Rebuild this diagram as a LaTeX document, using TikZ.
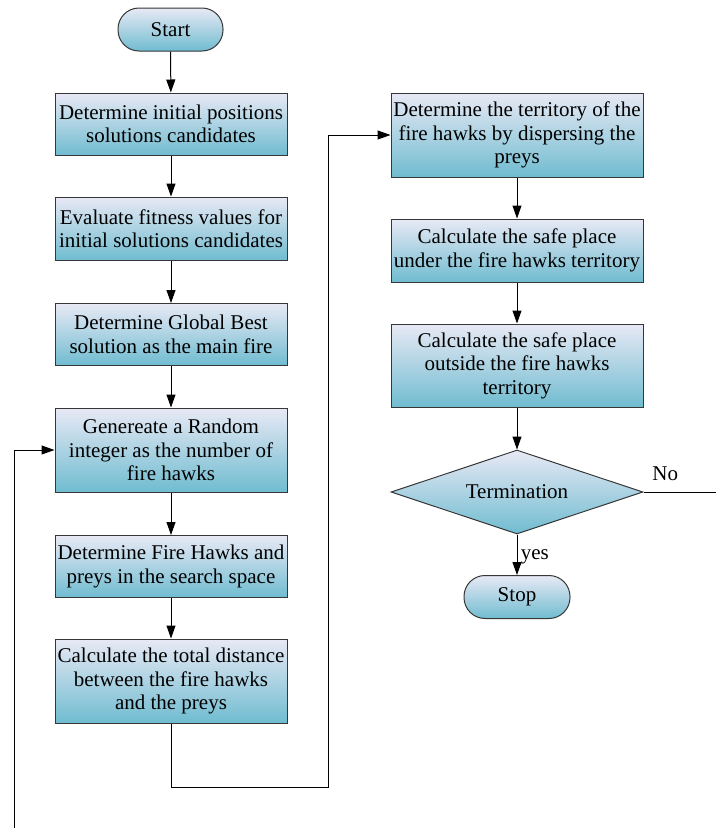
\documentclass[tikz,border=0pt]{standalone}
\usepackage{fontspec}
\setmainfont{Liberation Serif}
\usepackage{xcolor}
\usepackage{tikz}
\usetikzlibrary{arrows.meta, positioning, shapes.geometric}
\definecolor{hawktop}{RGB}{232,233,245}
\definecolor{hawkbottom}{RGB}{112,188,208}
\definecolor{hawkline}{RGB}{55,55,55}

\tikzset{
  hawkbox/.style={draw=hawkline, line width=1pt, top color=hawktop, bottom color=hawkbottom,
    align=center, inner sep=2pt, font=\fontsize{21}{23.5}\selectfont},
  stepbox/.style={hawkbox, rectangle, minimum width=232pt},
  widebox/.style={hawkbox, rectangle, minimum width=252pt},
  pill/.style={hawkbox, rectangle, rounded corners=21pt, minimum height=43pt},
  decide/.style={hawkbox, diamond, aspect=3, minimum width=252pt, minimum height=84pt, inner sep=0pt},
  flow/.style={draw=black, line width=1pt, -{Triangle[length=13pt,width=9pt]}},
  lbl/.style={font=\fontsize{21}{23.5}\selectfont}
}

\begin{document}
\begin{tikzpicture}[x=1pt, y=-1pt]
  \useasboundingbox (0,0) rectangle (716,828);
  % left column
  \node[pill, minimum width=105pt] (start) at (170.5,29.5) {Start};
  \node[stepbox, minimum height=62pt] (init) at (171,124) {Determine initial positions\\solutions candidates};
  \node[stepbox, minimum height=63pt] (fitness) at (171,228.5) {Evaluate fitness values for\\initial solutions candidates};
  \node[stepbox, minimum height=62pt] (best) at (171,334.5) {Determine Global Best\\solution as the main fire};
  \node[stepbox, minimum height=84pt] (random) at (171,450) {Genereate a Random\\integer as the number of\\fire hawks};
  \node[stepbox, minimum height=62pt] (hawks) at (171,566.5) {Determine Fire Hawks and\\preys in the search space};
  \node[stepbox, minimum height=84pt] (dist) at (171,681) {Calculate the total distance\\between the fire hawks\\and the preys};
  % right column
  \node[widebox, minimum height=84pt] (territory) at (517,135) {Determine the territory of the\\fire hawks by dispersing the\\preys};
  \node[widebox, minimum height=63pt] (under) at (517,250.5) {Calculate the safe place\\under the fire hawks territory};
  \node[widebox, minimum height=83pt] (outside) at (517,365.5) {Calculate the safe place\\outside the fire hawks\\territory};
  \node[decide] (term) at (517,492) {Termination};
  \node[pill, minimum width=106pt] (stop) at (517,597) {Stop};

  % free ends
  \coordinate (turn) at (328,787);
  \coordinate (loopin) at (14,828);
  \coordinate (noend) at (716,492);

  % connectors
  \draw[flow] (start) -- (init);
  \draw[flow] (init) -- (fitness);
  \draw[flow] (fitness) -- (best);
  \draw[flow] (best) -- (random);
  \draw[flow] (random) -- (hawks);
  \draw[flow] (hawks) -- (dist);
  \draw[flow] (dist.south) |- (turn) |- (territory.west);
  \draw[flow] (territory) -- (under);
  \draw[flow] (under) -- (outside);
  \draw[flow] (outside) -- (term);
  \draw[flow] (term) -- node[lbl, pos=0.55, right=0pt] {yes} (stop);
  \draw[draw=black, line width=1pt] (term.east) -- node[lbl, pos=0.3, above=7pt] {No} (noend);
  \draw[flow] (loopin) |- (random.west);
\end{tikzpicture}
\end{document}
